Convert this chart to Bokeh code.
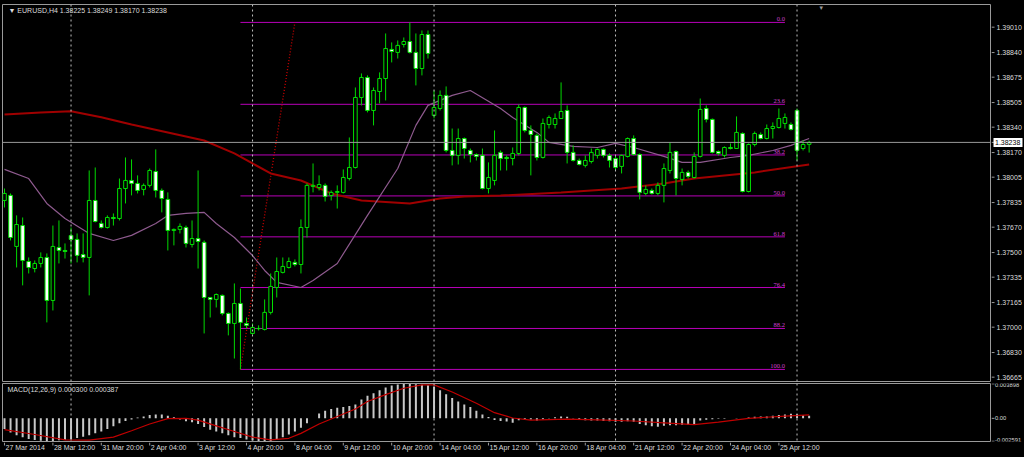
from bokeh.plotting import figure
from bokeh.layouts import column, row
from bokeh.models import Range1d, Span, Label, LabelSet, ColumnDataSource
from bokeh.core.properties import value
from bokeh.embed import file_html
from bokeh.resources import INLINE

# ---------------- DATA ----------------
symbol = "EURUSD,H4"

opens = [1.37849, 1.37883, 1.37541, 1.37681, 1.37440, 1.37393, 1.37427, 1.37467, 1.37179, 1.37534,
         1.37514, 1.37614, 1.37588, 1.37487, 1.37467, 1.37849, 1.37695, 1.37668, 1.37735, 1.37728,
         1.37929, 1.37983, 1.37963, 1.37923, 1.37950, 1.38043, 1.37916, 1.37856, 1.37648, 1.37655,
         1.37668, 1.37554, 1.37594, 1.37568, 1.37199, 1.37186, 1.37213, 1.37092, 1.37025, 1.37159,
         1.37025, 1.36958, 1.36991, 1.36985, 1.37099, 1.37266, 1.37367, 1.37400, 1.37434, 1.37420,
         1.37668, 1.37943, 1.37936, 1.37950, 1.37882, 1.37903, 1.37903, 1.37996, 1.38070, 1.38539,
         1.38673, 1.38452, 1.38579, 1.38666, 1.38861, 1.38841, 1.38894, 1.38914, 1.38841, 1.38733,
         1.38961, 1.38419, 1.38465, 1.38553, 1.38184, 1.38151, 1.38264, 1.38184, 1.38157, 1.38151,
         1.37929, 1.37983, 1.38171, 1.38137, 1.38130, 1.38164, 1.38472, 1.38318, 1.38285, 1.38137,
         1.38358, 1.38358, 1.38398, 1.38452, 1.38171, 1.38117, 1.38084, 1.38110, 1.38151, 1.38191,
         1.38151, 1.38130, 1.38077, 1.38144, 1.38264, 1.38157, 1.37896, 1.37916, 1.37896, 1.37950,
         1.38050, 1.38177, 1.37990, 1.38037, 1.38003, 1.38144, 1.38465, 1.38392, 1.38177, 1.38151,
         1.38204, 1.38197, 1.38298, 1.37909, 1.38224, 1.38291, 1.38264, 1.38331, 1.38338, 1.38365,
         1.38358, 1.38452, 1.38197, 1.38225]
highs = [1.37929, 1.37896, 1.37749, 1.37735, 1.37467, 1.37447, 1.37501, 1.37494, 1.37681, 1.37715,
         1.37561, 1.37668, 1.37628, 1.37628, 1.38050, 1.38070, 1.37715, 1.37749, 1.37762, 1.37996,
         1.38137, 1.38124, 1.38017, 1.37963, 1.38063, 1.38191, 1.37929, 1.37903, 1.37661, 1.37695,
         1.37681, 1.37715, 1.38050, 1.37581, 1.37199, 1.37226, 1.37219, 1.37099, 1.37293, 1.37259,
         1.37065, 1.37025, 1.37012, 1.37186, 1.37360, 1.37467, 1.37467, 1.37467, 1.37454, 1.37722,
         1.37963, 1.38097, 1.38017, 1.37963, 1.37916, 1.37950, 1.38057, 1.38271, 1.38606, 1.38700,
         1.38687, 1.38606, 1.38707, 1.38968, 1.38908, 1.38921, 1.38941, 1.39042, 1.38968, 1.38988,
         1.38988, 1.38586, 1.38586, 1.38613, 1.38331, 1.38331, 1.38271, 1.38197, 1.38164, 1.38197,
         1.38104, 1.38318, 1.38184, 1.38151, 1.38204, 1.38492, 1.38479, 1.38352, 1.38298, 1.38398,
         1.38419, 1.38432, 1.38640, 1.38486, 1.38218, 1.38130, 1.38151, 1.38197, 1.38197, 1.38197,
         1.38164, 1.38151, 1.38157, 1.38271, 1.38285, 1.38164, 1.37950, 1.37929, 1.37970, 1.38097,
         1.38238, 1.38184, 1.38063, 1.38050, 1.38171, 1.38532, 1.38486, 1.38398, 1.38184, 1.38211,
         1.38231, 1.38412, 1.38305, 1.38231, 1.38311, 1.38305, 1.38358, 1.38372, 1.38465, 1.38432,
         1.38372, 1.38465, 1.38251, 1.38249]
lows = [1.37802, 1.37581, 1.37400, 1.37280, 1.37360, 1.37367, 1.37400, 1.37032, 1.37112, 1.37427,
        1.37460, 1.37427, 1.37434, 1.37434, 1.37213, 1.37702, 1.37661, 1.37661, 1.37681, 1.37715,
        1.37829, 1.37883, 1.37896, 1.37883, 1.37936, 1.37869, 1.37769, 1.37514, 1.37548, 1.37628,
        1.37534, 1.37534, 1.37393, 1.36958, 1.37065, 1.37132, 1.37079, 1.36945, 1.36790, 1.36717,
        1.36991, 1.36951, 1.36978, 1.36978, 1.37085, 1.37199, 1.37360, 1.37393, 1.37407, 1.37360,
        1.37601, 1.37903, 1.37916, 1.37842, 1.37849, 1.37795, 1.37896, 1.37983, 1.38063, 1.38486,
        1.38439, 1.38352, 1.38499, 1.38519, 1.38774, 1.38800, 1.38874, 1.38834, 1.38620, 1.38687,
        1.38800, 1.38399, 1.38452, 1.38171, 1.38084, 1.38090, 1.38130, 1.38104, 1.38117, 1.37923,
        1.37896, 1.37950, 1.38050, 1.38050, 1.38084, 1.38151, 1.38305, 1.38017, 1.38117, 1.38130,
        1.38331, 1.38331, 1.38398, 1.38097, 1.38110, 1.38084, 1.38070, 1.38097, 1.38130, 1.38137,
        1.38070, 1.38050, 1.38030, 1.38137, 1.38151, 1.37856, 1.37883, 1.37889, 1.37883, 1.37836,
        1.38030, 1.37883, 1.37950, 1.37996, 1.37996, 1.38137, 1.38372, 1.38164, 1.38151, 1.38137,
        1.38191, 1.38197, 1.37903, 1.37903, 1.38211, 1.38258, 1.38258, 1.38264, 1.38331, 1.38331,
        1.38318, 1.38117, 1.38184, 1.38170]
closes = [1.37896, 1.37601, 1.37688, 1.37447, 1.37400, 1.37427, 1.37467, 1.37179, 1.37541, 1.37514,
          1.37507, 1.37588, 1.37481, 1.37467, 1.37849, 1.37708, 1.37668, 1.37735, 1.37728, 1.37929,
          1.37983, 1.37963, 1.37916, 1.37950, 1.38050, 1.37916, 1.37862, 1.37648, 1.37655, 1.37675,
          1.37561, 1.37594, 1.37574, 1.37199, 1.37186, 1.37219, 1.37092, 1.37025, 1.37159, 1.37032,
          1.37012, 1.36998, 1.36990, 1.37099, 1.37273, 1.37373, 1.37407, 1.37440, 1.37420, 1.37668,
          1.37950, 1.37950, 1.37956, 1.37876, 1.37903, 1.37909, 1.38003, 1.38070, 1.38539, 1.38673,
          1.38452, 1.38586, 1.38666, 1.38867, 1.38847, 1.38888, 1.38914, 1.38841, 1.38733, 1.38961,
          1.38834, 1.38472, 1.38553, 1.38184, 1.38151, 1.38264, 1.38197, 1.38157, 1.38144, 1.37929,
          1.38003, 1.38151, 1.38130, 1.38130, 1.38164, 1.38472, 1.38318, 1.38291, 1.38137, 1.38365,
          1.38405, 1.38398, 1.38445, 1.38171, 1.38117, 1.38090, 1.38117, 1.38171, 1.38191, 1.38151,
          1.38117, 1.38070, 1.38151, 1.38264, 1.38157, 1.37903, 1.37923, 1.37896, 1.37950, 1.38063,
          1.38171, 1.37996, 1.38037, 1.38010, 1.38144, 1.38459, 1.38392, 1.38171, 1.38164, 1.38204,
          1.38197, 1.38305, 1.37909, 1.38224, 1.38298, 1.38264, 1.38331, 1.38345, 1.38398, 1.38405,
          1.38325, 1.38184, 1.38224, 1.38238]

# slow moving average (red) sampled at bar indices
ma_slow_idx = [0, 6, 11, 16, 21, 27, 33, 38, 41, 44, 49, 54, 59, 67, 72, 76, 82, 92, 102, 109, 114, 124, 133]
ma_slow = [1.38425, 1.38439, 1.38447, 1.38407, 1.38358, 1.38305, 1.38251, 1.38164, 1.38097, 1.38030,
           1.37983, 1.37896, 1.37849, 1.37829, 1.37862, 1.37876, 1.37882, 1.37903, 1.37929, 1.37963,
           1.37996, 1.38037, 1.38090]
# fast moving average (violet) sampled at bar indices
ma_fast_idx = [0, 4, 7, 10, 14, 18, 21, 25, 27, 30, 33, 35, 38, 41, 43, 45, 49, 51, 55, 60, 65, 68, 70,
               74, 77, 82, 84, 88, 90, 94, 98, 101, 104, 109, 112, 115, 120, 123, 127, 130, 133]
ma_fast = [1.38057, 1.37996, 1.37829, 1.37728, 1.37628, 1.37581, 1.37615, 1.37695, 1.37749, 1.37762,
           1.37769, 1.37695, 1.37601, 1.37480, 1.37380, 1.37300, 1.37266, 1.37313, 1.37427, 1.37749,
           1.38063, 1.38352, 1.38486, 1.38553, 1.38586, 1.38465, 1.38405, 1.38305, 1.38238, 1.38211,
           1.38204, 1.38231, 1.38204, 1.38144, 1.38104, 1.38104, 1.38137, 1.38151, 1.38184, 1.38218,
           1.38264]

# MACD(12,26,9) main values (x 1e-4) per bar, and signal line sampled at bar indices
macd_main_e4 = [-12.0, -16.0, -19.0, -21.5, -23.5, -24.5, -25.3, -25.9, -25.5, -24.8,
                -24.2, -23.5, -22.3, -20.8, -19.1, -17.0, -14.9, -12.0, -8.9, -5.5,
                -3.0, -1.3, 1.0, 2.0, 3.8, 4.2, 4.2, 3.0, 1.3, -1.3,
                -3.4, -4.3, -6.4, -9.8, -12.8, -14.9, -17.0, -19.1, -21.3, -22.3,
                -23.8, -25.0, -25.5, -25.9, -25.5, -24.0, -21.3, -18.3, -14.9, -10.6,
                -5.5, 0.0, 5.5, 8.5, 10.6, 11.9, 12.8, 14.0, 15.7, 21.3,
                25.5, 28.5, 31.9, 34.9, 37.0, 38.3, 39.0, 39.0, 38.5, 38.0,
                37.4, 36.0, 31.9, 27.2, 23.0, 19.1, 15.7, 12.8, 8.5, 4.2,
                1.5, -2.0, -3.0, -3.5, -5.1, -2.1, -1.3, -1.3, -2.5, -0.9,
                0.4, 1.3, 2.1, 1.7, 0.4, -1.7, -2.1, -2.5, -2.5, -3.0,
                -3.4, -3.8, -3.8, -3.4, -3.8, -6.4, -7.7, -8.9, -9.4, -8.5,
                -7.7, -7.7, -7.2, -7.2, -6.4, -2.5, -1.5, -0.9, -0.4, -0.4,
                0.2, 0.4, 0.2, 0.9, 1.7, 2.1, 2.1, 3.0, 3.8, 4.3,
                5.1, 4.7, 3.4, 3.0]
macd_signal_idx = [0, 5, 10, 14, 18, 21, 24, 27, 30, 32, 35, 38, 41, 44, 47, 49, 52, 55, 58, 60,
                   63, 66, 69, 71, 74, 78, 81, 84, 87, 93, 98, 104, 109, 114, 118, 123, 129, 133]
macd_signal_e4 = [-12.8, -18.3, -24.3, -24.7, -21.3, -14.0, -6.4, -0.4, 0.0, -2.1, -8.5, -14.9,
                  -21.3, -24.3, -22.6, -17.0, -6.4, 2.1, 10.6, 19.1, 26.8, 34.0, 37.9, 37.9, 29.8,
                  17.0, 6.4, 0.4, -2.1, -0.9, -1.7, -3.0, -5.1, -7.2, -4.3, 0.0, 2.6, 3.87]
macd_last_main = 0.000300
macd_last_signal = 0.000387

# time axis
time_tick_idx = [0, 8, 16, 24, 32, 40, 48, 56, 64, 72, 80, 88, 96, 104, 112, 120, 128]
time_tick_labels = ["27 Mar 2014", "28 Mar 12:00", "31 Mar 20:00", "2 Apr 04:00", "3 Apr 12:00",
                    "4 Apr 20:00", "8 Apr 04:00", "9 Apr 12:00", "10 Apr 20:00", "14 Apr 04:00",
                    "15 Apr 12:00", "16 Apr 20:00", "18 Apr 04:00", "21 Apr 12:00", "22 Apr 20:00",
                    "24 Apr 04:00", "25 Apr 12:00"]
week_start_idx = [11, 41, 71, 101, 131]

price_ticks = [1.39010, 1.38840, 1.38675, 1.38505, 1.38340, 1.38170, 1.38005, 1.37835,
               1.37670, 1.37500, 1.37335, 1.37165, 1.37000, 1.36830, 1.36665]
macd_ticks = [0.003898, 0.0, -0.002591]
macd_tick_labels = ["0.003898", "0.00", "-0.002591"]

# Fibonacci retracement
fib_low = 1.36717
fib_high = 1.39042
fib_levels = [0.0, 23.6, 38.2, 50.0, 61.8, 76.4, 88.2, 100.0]
fib_start_idx = 39
fib_end_idx = 129
fib_anchor_idx = [39, 48]

# ---------------- STYLE ----------------
FONT = "Liberation Sans"
GRAY = "#9a9a9a"
TXT = "#dcdcdc"
X0, X1 = -0.33, 162.98
Y0, Y1 = 1.36636, 1.39162
MY0, MY1 = -0.00262, 0.00394
FRAME_W = 988
AXIS_W = 33


def base_fig(width, height, xr, yr, top, bottom, left, right, outline=GRAY):
    f = figure(width=width, height=height, x_range=xr, y_range=yr,
               output_backend="svg", toolbar_location=None,
               x_axis_location=None, y_axis_location=None,
               background_fill_color="black", border_fill_color="black",
               min_border_left=left, min_border_right=right,
               min_border_top=top, min_border_bottom=bottom,
               outline_line_color=outline)
    f.grid.visible = False
    return f


idx = list(range(len(opens)))
bull = [c >= o for o, c in zip(opens, closes)]

# ---------------- MAIN PRICE PANEL ----------------
xr = Range1d(X0, X1)
p = base_fig(FRAME_W + 3, 382, xr, Range1d(Y0, Y1), 4, 1, 2, 1)

for w in week_start_idx:
    p.add_layout(Span(location=w, dimension="height", line_color="#c0c0c0",
                      line_dash="2 3", line_width=1))
p.add_layout(Span(location=closes[-1], dimension="width", line_color=GRAY, line_width=1))

fib_prices = [fib_high - (fib_high - fib_low) * lv / 100.0 for lv in fib_levels]
fib_src = ColumnDataSource(dict(
    x0=[fib_start_idx] * len(fib_levels), x1=[fib_end_idx] * len(fib_levels),
    y=fib_prices, lab=["%.1f" % lv for lv in fib_levels]))
p.segment(x0="x0", y0="y", x1="x1", y1="y", source=fib_src, line_color="#b800b8", line_width=1)
p.add_layout(LabelSet(x="x1", y="y", text="lab", source=fib_src, text_align="right",
                      text_baseline="bottom", y_offset=1, text_color="#d040d0",
                      text_font=FONT, text_font_size="6.5px"))
p.line(fib_anchor_idx, [fib_low, fib_high], line_color="#d00000", line_dash="1 2", line_width=1.3)

p.line(ma_slow_idx, ma_slow, line_color="#a00000", line_width=2)
p.line(ma_fast_idx, ma_fast, line_color="#8e5a8e", line_width=1.2)

wick_src = ColumnDataSource(dict(x=idx, lo=lows, hi=highs))
p.segment(x0="x", y0="lo", x1="x", y1="hi", source=wick_src, line_color="#00d800", line_width=1)
bull_src = ColumnDataSource(dict(
    x=[i for i in idx if bull[i]], top=[closes[i] for i in idx if bull[i]],
    bottom=[opens[i] for i in idx if bull[i]]))
bear_src = ColumnDataSource(dict(
    x=[i for i in idx if not bull[i]], top=[opens[i] for i in idx if not bull[i]],
    bottom=[closes[i] for i in idx if not bull[i]]))
p.vbar(x="x", top="top", bottom="bottom", width=0.6, source=bull_src,
       fill_color="black", line_color="#00e000", line_width=1)
p.vbar(x="x", top="top", bottom="bottom", width=0.6, source=bear_src,
       fill_color="white", line_color="#00e000", line_width=1)

p.add_layout(Label(x=X0, y=Y1, x_offset=6, y_offset=-2, text_baseline="top",
                   text="\u25BC " + symbol + " %.5f %.5f %.5f %.5f" % (opens[-1], highs[-1], lows[-1], closes[-1]),
                   text_color=TXT, text_font=FONT, text_font_size="7px"))
p.add_layout(Label(x=135.0, y=Y1, y_offset=0, text_baseline="top", text_align="center",
                   text="\u25BC", text_color=GRAY, text_font=FONT, text_font_size="6px"))

# price axis panel (right)
pax = base_fig(AXIS_W, 382, Range1d(0, AXIS_W), p.y_range, 4, 1, 0, 0, outline=None)
pax.segment(x0=[0] * len(price_ticks), y0=price_ticks, x1=[3] * len(price_ticks), y1=price_ticks,
            line_color=GRAY, line_width=1)
pax.text(x=[5] * len(price_ticks), y=price_ticks, text=["%.5f" % t for t in price_ticks],
         text_color=TXT, text_font=value(FONT), text_font_size=value("7px"),
         text_align="left", text_baseline="middle")
pax.segment(x0=[0], y0=[closes[-1]], x1=[3], y1=[closes[-1]], line_color=GRAY, line_width=1)
pax.rect(x=[16.5], y=[closes[-1]], width=29, height=9, width_units="screen", height_units="screen",
         fill_color="white", line_color=None)
pax.text(x=[3.5], y=[closes[-1]], text=["%.5f" % closes[-1]], text_color="black",
         text_font=value(FONT), text_font_size=value("7px"),
         text_align="left", text_baseline="middle")

# ---------------- MACD PANEL ----------------
macd_main = [v * 1e-4 for v in macd_main_e4]
macd_signal = [v * 1e-4 for v in macd_signal_e4]

m = base_fig(FRAME_W + 3, 60, xr, Range1d(MY0, MY1), 1, 1, 2, 1)
for w in week_start_idx:
    m.add_layout(Span(location=w, dimension="height", line_color="#c0c0c0",
                      line_dash="2 3", line_width=1))
m.vbar(x=idx, top=macd_main, bottom=0, width=0.33, fill_color="#c8c8c8", line_color=None)
m.line(macd_signal_idx, macd_signal, line_color="#c00000", line_width=1.2)
m.add_layout(Label(x=X0, y=MY1, x_offset=5, y_offset=-2, text_baseline="top",
                   text="MACD(12,26,9) %.6f %.6f" % (macd_last_main, macd_last_signal),
                   text_color=TXT, text_font=FONT, text_font_size="7px"))

max_ = base_fig(AXIS_W, 60, Range1d(0, AXIS_W), m.y_range, 1, 1, 0, 0, outline=None)
max_.segment(x0=[0] * 3, y0=macd_ticks, x1=[3] * 3, y1=macd_ticks, line_color=GRAY, line_width=1)
max_.text(x=[3.5] * 3, y=macd_ticks, text=macd_tick_labels, text_color=TXT,
          text_font=value(FONT), text_font_size=value("5.8px"), text_align="left",
          text_baseline=["top", "middle", "bottom"], y_offset=[-1, 0, 1])

# ---------------- TIME AXIS ----------------
t = base_fig(FRAME_W + 3 + AXIS_W, 15, xr, Range1d(0, 1), 0, 0, 2, 1 + AXIS_W, outline=None)
t.segment(x0=time_tick_idx, y0=[1.0] * len(time_tick_idx), x1=time_tick_idx,
          y1=[0.8] * len(time_tick_idx), line_color=GRAY, line_width=1)
t.text(x=time_tick_idx, y=[0.87] * len(time_tick_idx), text=time_tick_labels, x_offset=1,
       text_color=TXT, text_font=value(FONT), text_font_size=value("7px"),
       text_align="left", text_baseline="top")

layout = column(row(p, pax, spacing=0), row(m, max_, spacing=0), t, spacing=0,
                styles={"background-color": "black"})
open("out.html", "w").write(file_html(layout, INLINE))
